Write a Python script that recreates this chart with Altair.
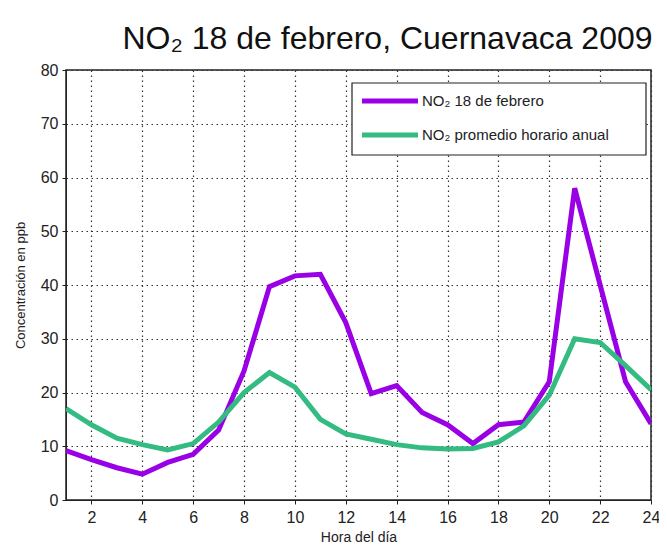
import altair as alt
import pandas as pd

hours = list(range(1, 25))
feb18 = [9.2, 7.5, 6.0, 4.8, 7.0, 8.5, 13.0, 24.0, 39.7, 41.7, 42.0, 33.0,
         19.8, 21.3, 16.3, 14.0, 10.5, 14.0, 14.5, 22.0, 58.0, 40.0, 22.0, 14.2]
annual = [17.0, 14.0, 11.5, 10.3, 9.3, 10.5, 14.5, 20.0, 23.7, 21.0, 15.0, 12.3,
          11.3, 10.3, 9.7, 9.5, 9.6, 10.8, 13.8, 19.5, 30.0, 29.3, 25.0, 20.5]
series_names = ["NO₂ 18 de febrero", "NO₂ promedio horario anual"]
series_colors = ["#9a00e6", "#34bb82"]
x_ticks = list(range(2, 25, 2))
y_ticks = list(range(0, 81, 10))

rows = []
for h, v in zip(hours, feb18):
    rows.append({"hora": h, "valor": v, "serie": series_names[0]})
for h, v in zip(hours, annual):
    rows.append({"hora": h, "valor": v, "serie": series_names[1]})
df = pd.DataFrame(rows)

font = "Liberation Sans"
color_scale = alt.Scale(domain=series_names, range=series_colors)

lines = alt.Chart(df).mark_line(strokeWidth=5, strokeJoin="miter", clip=True).encode(
    x=alt.X("hora:Q", scale=alt.Scale(domain=[1, 24], nice=False, zero=False),
            axis=alt.Axis(values=x_ticks, title="Hora del día", grid=True,
                          gridDash=[1.5, 3.5], gridColor="#333", gridWidth=1.2,
                          labelFontSize=16, labelFont=font, labelColor="#222",
                          titleFontSize=14, titleFont=font, titleFontWeight="normal",
                          titleColor="#222", labelPadding=5, titlePadding=5,
                          tickSize=4, tickColor="#222", domainColor="#222",
                          labelFlush=False)),
    y=alt.Y("valor:Q", scale=alt.Scale(domain=[0, 80], nice=False),
            axis=alt.Axis(values=y_ticks, title="Concentración en ppb", grid=True,
                          gridDash=[1.5, 3.5], gridColor="#333", gridWidth=1.2,
                          labelFontSize=16, labelFont=font, labelColor="#222",
                          titleFontSize=13, titleFont=font, titleFontWeight="normal",
                          titleColor="#222", labelPadding=4, titlePadding=13,
                          tickSize=4, tickColor="#222", domainColor="#222")),
    color=alt.Color("serie:N", scale=color_scale, legend=None),
)

# legend (manual, MATLAB-style box)
legend_box = alt.Chart(pd.DataFrame({"k": [0]})).mark_rect(
    fill="white", stroke="#222", strokeWidth=1.2
).encode(x=alt.value(286), x2=alt.value(580), y=alt.value(13), y2=alt.value(85))

legend_layers = [legend_box]
legend_rows_y = [31, 65]
for name, ypix in zip(series_names, legend_rows_y):
    ldf = pd.DataFrame({"serie": [name]})
    legend_layers.append(
        alt.Chart(ldf).mark_rule(strokeWidth=5).encode(
            x=alt.value(296), x2=alt.value(352), y=alt.value(ypix),
            color=alt.Color("serie:N", scale=color_scale, legend=None))
    )
    legend_layers.append(
        alt.Chart(ldf).mark_text(align="left", baseline="middle", fontSize=15,
                                 font=font, color="#222").encode(
            x=alt.value(356), y=alt.value(ypix), text="serie:N")
    )

chart = alt.layer(lines, *legend_layers).properties(
    width=585, height=430,
    autosize=alt.AutoSizeParams(type="none"),
    padding={"left": 58, "top": 62, "right": 8, "bottom": 48},
    title=alt.TitleParams(text="NO₂ 18 de febrero, Cuernavaca 2009", fontSize=32,
                          font=font, fontWeight="normal", color="#111",
                          anchor="middle", dx=29, offset=6),
).configure_view(stroke="#222", strokeWidth=1.5)

chart.save("out.html", embed_options={"renderer": "svg", "actions": False})
